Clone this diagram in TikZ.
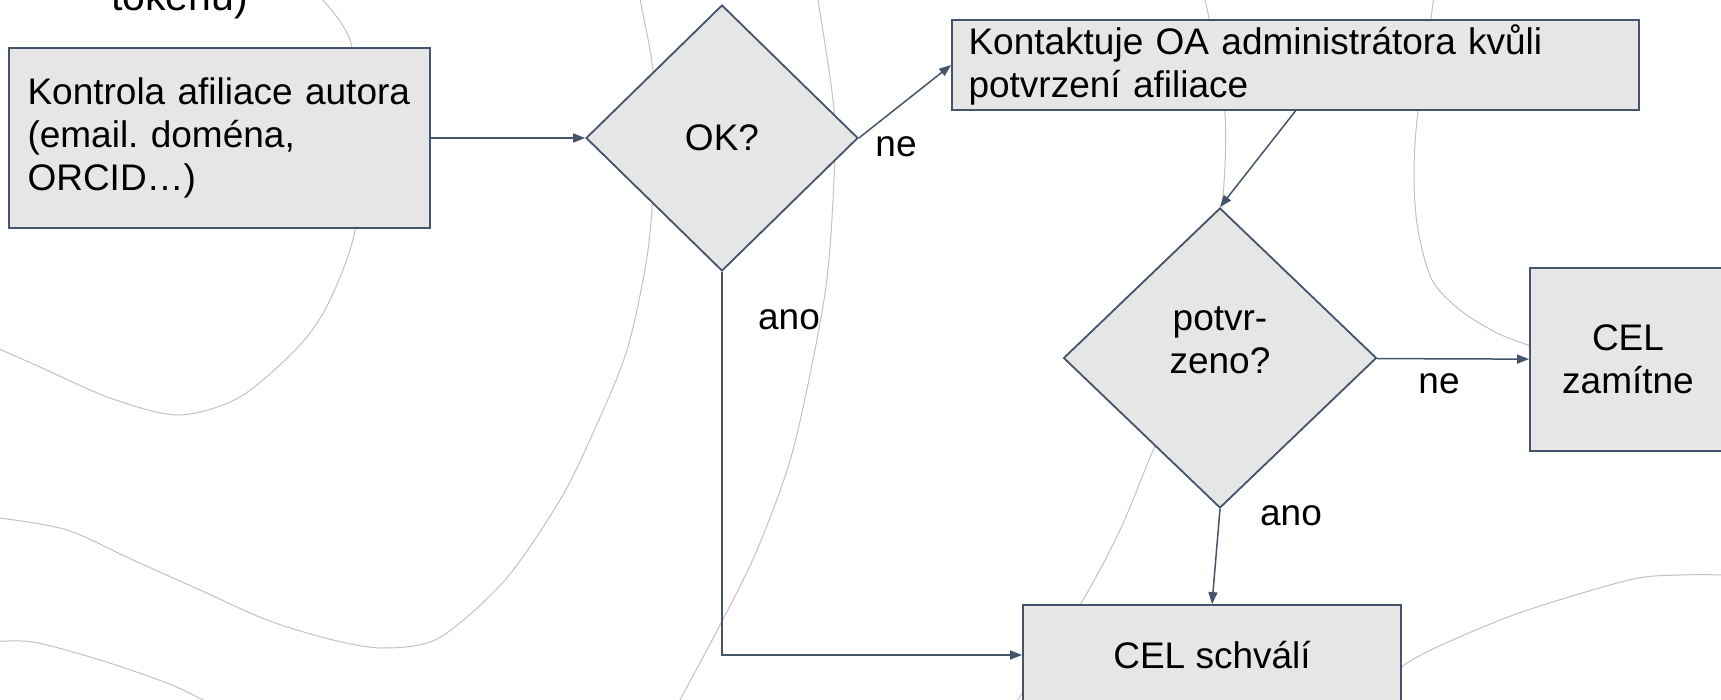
\documentclass[tikz,border=0pt]{standalone}
\usepackage{fontspec}
\setmainfont{Liberation Sans}
\usetikzlibrary{shapes.geometric,arrows.meta}
\frenchspacing

\definecolor{boxfill}{HTML}{E6E6E6}
\definecolor{boxline}{HTML}{44546A}
\definecolor{wave}{HTML}{C2C2C2}

\begin{document}
\begin{tikzpicture}[x=0.5pt,y=-0.5pt,font=\fontsize{18.5}{21.5}\selectfont,
    box/.style={rectangle,draw=boxline,fill=boxfill,line width=0.9pt,inner sep=0pt},
    decision/.style={diamond,draw=boxline,fill=boxfill,line width=0.9pt,inner sep=0pt},
    lbl/.style={inner sep=0pt}]

      \useasboundingbox (0,0) rectangle (1721,700);

      \begin{scope}[draw=wave,line width=0.5pt]
        \draw plot[smooth] coordinates {(318,-5) (350,40) (360,130) (355,230) (330,300) (300,345) (240,397) (178,415) (110,398) (40,367) (-10,345)};
        \draw plot[smooth] coordinates {(639,-5) (653,70) (655,150) (648,250) (627,350) (593,433) (560,500) (505,580) (439,638) (384,648) (333,640) (267,620) (200,590) (133,560) (67,530) (0,518) (-10,518)};
        \draw plot[smooth] coordinates {(-10,642) (33,642) (100,660) (167,683) (203,700) (215,708)};
        \draw plot[smooth] coordinates {(817,-5) (834,110) (833,200) (824,300) (793,450) (757,550) (719,627) (680,700) (675,712)};
        \draw plot[smooth] coordinates {(1203,-5) (1209,18) (1225,115) (1222,208) (1205,330) (1154,448) (1120,530) (1080,605) (1019,698) (1015,710)};
        \draw plot[smooth] coordinates {(1434,-5) (1431,18) (1417,120) (1414,180) (1418,230) (1432,280) (1460,310) (1497,333) (1530,346) (1560,360)};
        \draw plot[smooth] coordinates {(1730,575) (1680,575) (1629,580) (1519,613) (1437,647) (1401,667) (1380,685)};
      \end{scope}

      \node[anchor=base west,font=\fontsize{20.5}{24}\selectfont] (token) at (104,11) {tokenu)};

      \node[box,minimum width=210.5pt,minimum height=90pt,text width=192pt,align=left] (kontrola) at (219.5,138)
        {Kontrola afiliace autora\\(email. doména,\\ORCID…)};
      \node[decision,minimum width=136pt,minimum height=133pt] (ok) at (722,138) {OK?};
      \node[box,minimum width=343.5pt,minimum height=45pt,text width=327pt,align=left] (kontakt) at (1295.5,65)
        {Kontaktuje OA administrátora kvůli\\potvrzení afiliace};
      \node[decision,minimum width=156.5pt,minimum height=150pt,
        label={[align=center,yshift=9pt]center:{potvr-\\zeno?}}] (potvr) at (1220,358) {};
      \node[box,minimum width=98pt,minimum height=91.5pt,align=center] (zamitne) at (1628,359.5) {CEL\\zamítne};
      \node[box,minimum width=189pt,minimum height=50pt] (schvali) at (1212,655) {CEL schválí};

      \begin{scope}[every edge/.style={draw=boxline,line width=0.75pt,-{Triangle[length=6pt,width=4.5pt]}}]
        \path (kontrola) edge (ok);
        \path (ok.east) edge (kontakt.west);
        \path (kontakt.south) edge (potvr.north);
        \path (potvr) edge (zamitne);
        \path (potvr.south) edge (schvali.north);
        \path (ok.south) edge[to path={|- (\tikztotarget)}] (schvali.west);
      \end{scope}

      \node[lbl] (ne1) at (896,147) {ne};
      \node[lbl] (ano1) at (789,320) {ano};
      \node[lbl] (ne2) at (1439,384) {ne};
      \node[lbl] (ano2) at (1291,516) {ano};

\end{tikzpicture}
\end{document}
